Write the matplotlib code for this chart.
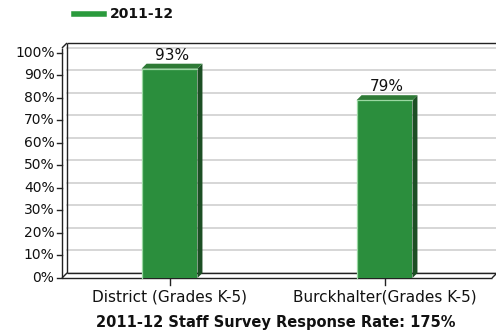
import numpy as np
import matplotlib.pyplot as plt
from matplotlib.patches import Polygon

categories = ['District (Grades K-5)', 'Burckhalter(Grades K-5)']
rates = [93, 79]
yticks = list(range(0, 101, 10))
series_name = '2011-12'
title = '2011-12 Staff Survey Response Rate: 175%'

fig = plt.figure(figsize=(4.96, 3.36), dpi=100)
ax = fig.add_axes([62/496, 58/336, 430/496, 230/336])
ax.set_xlim(-0.5, 1.5)
ax.set_ylim(0, 102.2)
ax.axis('off')

# depth of the fake 3d box, in data units (about 5 px each way)
dx = 5 / 215.
dy = 5 / 2.25
top = 102.2
x0, x1 = -0.5, 1.5
frame = '#222222'
grid = '#cfcfcf'

# back wall gridlines
for v in yticks:
    ax.plot([x0 + dx, x1 + dx], [v + dy, v + dy], color=grid, lw=1.2, zorder=1, clip_on=False)

# wall / floor outline
kw = dict(color=frame, lw=1.0, zorder=2, clip_on=False, solid_capstyle='butt')
ax.plot([x0, x1], [0, 0], **kw)
ax.plot([x0 + dx, x1 + dx], [dy, dy], **kw)
ax.plot([x1, x1 + dx], [0, dy], **kw)
ax.plot([x0, x0], [0, top], **kw)
ax.plot([x0 + dx, x0 + dx], [dy, top + dy], **kw)
ax.plot([x0, x0 + dx], [top, top + dy], **kw)
ax.plot([x0, x0 + dx], [0, dy], **kw)
ax.plot([x0 + dx, x1 + dx], [top + dy, top + dy], **kw)

# y ticks and labels
for v in yticks:
    ax.plot([x0 - 0.023, x0], [v, v], color=frame, lw=1.0, clip_on=False)
    ax.text(x0 - 0.035, v, f'{v}%', ha='right', va='center', fontsize=10, color='#111111')

# bars with top and side faces
w = 0.26
xs = np.arange(len(categories))
for x, v in zip(xs, rates):
    l, r = x - w / 2, x + w / 2
    ax.add_patch(Polygon([(l, 0), (r, 0), (r, v), (l, v)], closed=True,
                         facecolor='#2b8e3d', edgecolor='none', zorder=4, clip_on=False))
    ax.add_patch(Polygon([(r, 0), (r + dx, dy), (r + dx, v + dy), (r, v)], closed=True,
                         facecolor='#1c4f24', edgecolor='none', zorder=4, clip_on=False))
    ax.add_patch(Polygon([(l, v), (r, v), (r + dx, v + dy), (l + dx, v + dy)], closed=True,
                         facecolor='#2e7a36', edgecolor='none', zorder=4, clip_on=False))
    ax.plot([l, l, r], [0, v, v], color='#9ad8a2', lw=0.9, zorder=5, clip_on=False)
    ax.text(x + dx / 2, v + dy + 0.5, f'{v}%', ha='center', va='bottom', fontsize=11, color='#111111')
    ax.plot([x, x], [0, -3], color=frame, lw=1.0, clip_on=False)
    ax.text(x, -8.5, categories[x], ha='center', va='center', fontsize=11, color='#111111')

fig.text(276/496, 1 - 323/336, title, ha='center', va='center', fontsize=10.5, fontweight='bold', color='#111111')

# legend
fig.lines.append(plt.Line2D([74/496, 104/496], [1 - 14/336, 1 - 14/336], transform=fig.transFigure,
                            color='#2a9a3c', lw=4))
fig.text(110/496, 1 - 14/336, series_name, ha='left', va='center', fontsize=10, fontweight='bold', color='#111111')

fig.savefig('out.png', dpi=100, facecolor='white')
